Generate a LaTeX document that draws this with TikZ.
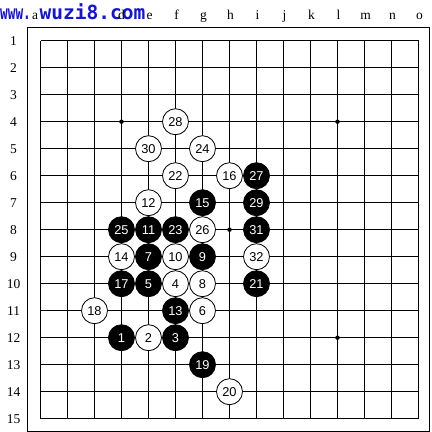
\documentclass[tikz,border=0pt]{standalone}
\usepackage{fontspec}
\setmainfont{Liberation Serif}
\newfontfamily\stonefont{Liberation Sans}
\newfontfamily\wmfont{DejaVu Sans Mono}
\definecolor{wmblue}{RGB}{20,20,215}
\tikzset{
  gridline/.style={line width=1pt, black},
  stonebase/.style={circle, minimum size=26pt, inner sep=0pt, line width=0.8pt, draw=black,
    font=\stonefont\fontsize{12.8}{12.8}\selectfont},
  wstone/.style={stonebase, fill=white, text=black},
  bstone/.style={stonebase, fill=black, text=white},
  starpt/.style={circle, fill=black, inner sep=0pt, minimum size=4.5pt},
  coordlabel/.style={font=\fontsize{13.5}{13.5}\selectfont, anchor=base, inner sep=0pt},
  watermark/.style={font=\wmfont\bfseries\fontsize{13}{13}\selectfont, text=wmblue, anchor=base west, inner sep=0pt}
}
\newcommand{\cx}[1]{40.5+27*(#1-1)}
\newcommand{\ry}[1]{40.7+27*(#1-1)}
\begin{document}
\begin{tikzpicture}[x=1pt,y=-1pt]
\useasboundingbox (0,0) rectangle (432,432);
\fill[white] (0,0) rectangle (432,432);
% outer frame
\draw[gridline] (27.3,27.3) rectangle (429.5,431);
% grid
\foreach \i in {1,...,15} {
  \draw[gridline] ({\cx{\i}},{\ry{1}}) -- ({\cx{\i}},{\ry{15}});
  \draw[gridline] ({\cx{1}},{\ry{\i}}) -- ({\cx{15}},{\ry{\i}});
}
% row labels
\foreach \i in {1,...,15} {
  \node[coordlabel] (row\i) at (13.5,{\ry{\i}+5}) {\i};
}
% column labels
\node[coordlabel] (cola) at (35,19) {a};
\foreach \l/\i in {e/5,f/6,g/7,h/8,i/9,j/10,k/11,l/12,m/13,n/14,o/15} {
  \node[coordlabel] (col\l) at ({\cx{\i}+1},19) {\l};
}
% watermark
\node[watermark] (wm1) at (0,19) {\scalebox{0.98}[1.5]{www.}};
\node[watermark] (wm2) at (39.5,19) {\scalebox{1.5}[1.5]{wuzi8.com}};
\node[coordlabel] (cold) at ({\cx{4}},19) {d};
% star points
\foreach \c/\r/\n in {4/4/a,12/4/b,8/8/c,4/12/d,12/12/e} {
  \node[starpt] (star\n) at ({\cx{\c}},{\ry{\r}}) {};
}
% stones
\foreach \c/\r/\n/\s in {
  4/12/1/bstone, 5/12/2/wstone, 6/12/3/bstone, 6/10/4/wstone, 5/10/5/bstone,
  7/11/6/wstone, 5/9/7/bstone, 7/10/8/wstone, 7/9/9/bstone, 6/9/10/wstone,
  5/8/11/bstone, 5/7/12/wstone, 6/11/13/bstone, 4/9/14/wstone, 7/7/15/bstone,
  8/6/16/wstone, 4/10/17/bstone, 3/11/18/wstone, 7/13/19/bstone, 8/14/20/wstone,
  9/10/21/bstone, 6/6/22/wstone, 6/8/23/bstone, 7/5/24/wstone, 4/8/25/bstone,
  7/8/26/wstone, 9/6/27/bstone, 6/4/28/wstone, 9/7/29/bstone, 5/5/30/wstone,
  9/8/31/bstone, 9/9/32/wstone} {
  \node[\s] (s\n) at ({\cx{\c}},{\ry{\r}}) {\n};
}
\end{tikzpicture}
\end{document}
